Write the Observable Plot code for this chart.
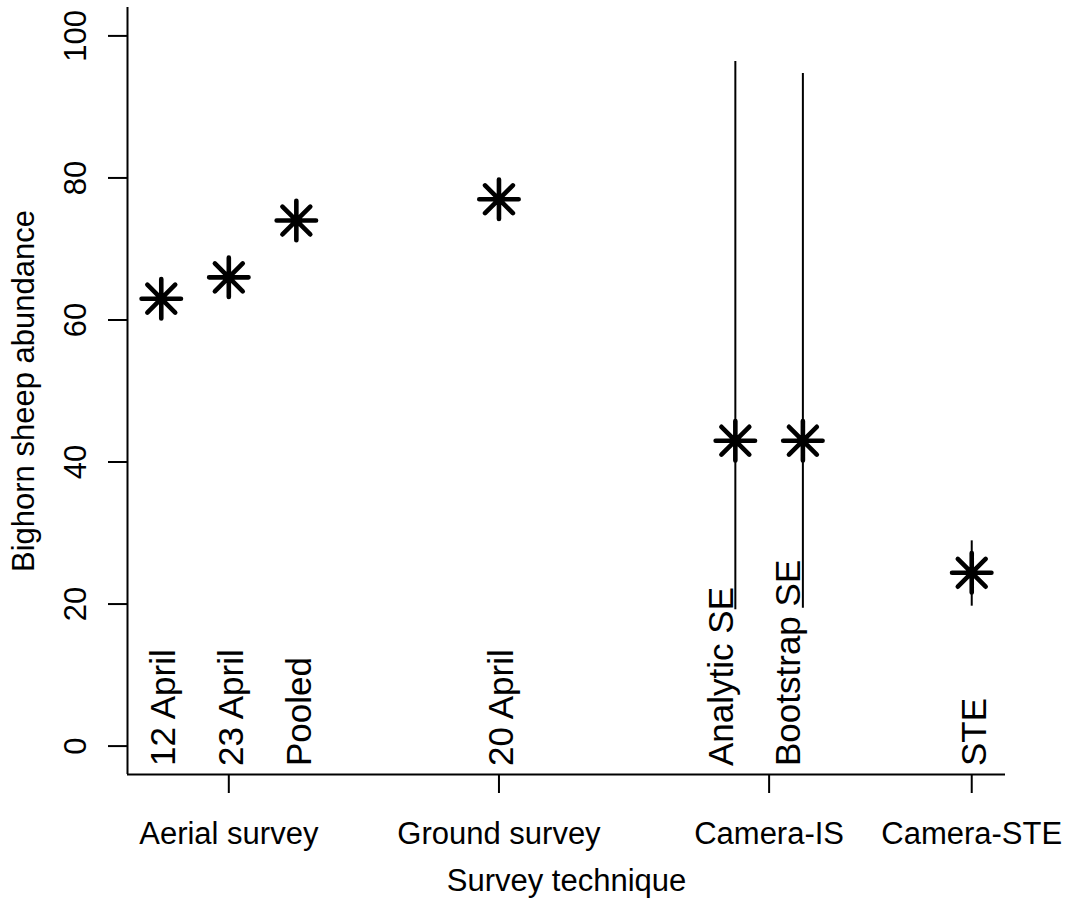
<!DOCTYPE html>
<html><head><meta charset="utf-8">
<script src="https://cdn.jsdelivr.net/npm/d3@7"></script>
<script src="https://cdn.jsdelivr.net/npm/@observablehq/plot@0.6"></script>
<style>body{margin:0;background:#fff} svg{display:block}</style>
</head><body><div id="chart"></div>
<script>
// ---- data ----
const pointLabels = ["12 April", "23 April", "Pooled", "20 April", "Analytic SE", "Bootstrap SE", "STE"];
const pointX = [1, 2, 3, 6, 9.5, 10.5, 13];
const abundance = [63, 66, 74, 77, 43, 43, 24.4];
const errLow = [null, null, null, null, 19.2, 19.4, 19.7];
const errHigh = [null, null, null, null, 96.4, 94.7, 28.9];
const labelX = [1, 2, 3, 6, 9.25, 10.25, 13];
const groupTicks = [2, 6, 10, 13];
const groupNames = ["Aerial survey", "Ground survey", "Camera-IS", "Camera-STE"];
const yTicks = [0, 20, 40, 60, 80, 100];

const labelY = -2.8;
const rows = pointLabels.map((label, i) => ({label, x: pointX[i], y: abundance[i], lo: errLow[i], hi: errHigh[i], lx: labelX[i]}));
const bars = rows.filter(d => d.lo != null);

// R pch=8 style asterisk: plus + cross, arms of equal length
const asterisk = {
  draw(ctx, size) {
    const r = Math.sqrt(size / Math.PI), d = r / Math.SQRT2;
    ctx.moveTo(-r, 0); ctx.lineTo(r, 0);
    ctx.moveTo(0, -r); ctx.lineTo(0, r);
    ctx.moveTo(-d, -d); ctx.lineTo(d, d);
    ctx.moveTo(-d, d); ctx.lineTo(d, -d);
  }
};

const chart = Plot.plot({
  width: 1074, height: 898,
  marginLeft: 127, marginRight: 69, marginTop: 7, marginBottom: 124,
  x: {domain: [0.5, 13.5], axis: null},
  y: {domain: [-4, 104], axis: null},
  style: {fontFamily: "'Liberation Sans', Arial, sans-serif", background: "#fff", color: "black"},
  marks: [
    Plot.ruleX([0.5], {stroke: "black", strokeWidth: 2}),
    Plot.ruleY([-4], {stroke: "black", strokeWidth: 2}),
    Plot.axisY({ticks: yTicks, tickSize: 19, tickRotate: -90, tickPadding: 23, fontSize: 31, label: null, strokeWidth: 2}),
    Plot.axisX({ticks: groupTicks, tickFormat: d => groupNames[groupTicks.indexOf(d)], tickSize: 19, tickPadding: 28, fontSize: 31, label: null, strokeWidth: 2}),
    Plot.ruleX(bars, {x: "x", y1: "lo", y2: "hi", stroke: "black", strokeWidth: 2}),
    Plot.dot(rows, {x: "x", y: "y", r: 19.7, symbol: asterisk, stroke: "black", fill: "none", strokeWidth: 4.6, strokeLinecap: "round"}),
    Plot.text(rows, {x: "lx", y: () => labelY, text: "label", rotate: -90, textAnchor: "start", lineAnchor: "middle", fontSize: 35, dx: 3, fill: "black"}),
    Plot.text(["Survey technique"], {frameAnchor: "bottom", text: d => d, dy: 116, lineAnchor: "bottom", fontSize: 31, fill: "black"}),
    Plot.text(["Bighorn sheep abundance"], {frameAnchor: "left", text: d => d, rotate: -90, dx: -94, lineAnchor: "bottom", textAnchor: "middle", fontSize: 31, fill: "black"})
  ]
});
document.getElementById("chart").appendChild(chart);
</script>
</body></html>
